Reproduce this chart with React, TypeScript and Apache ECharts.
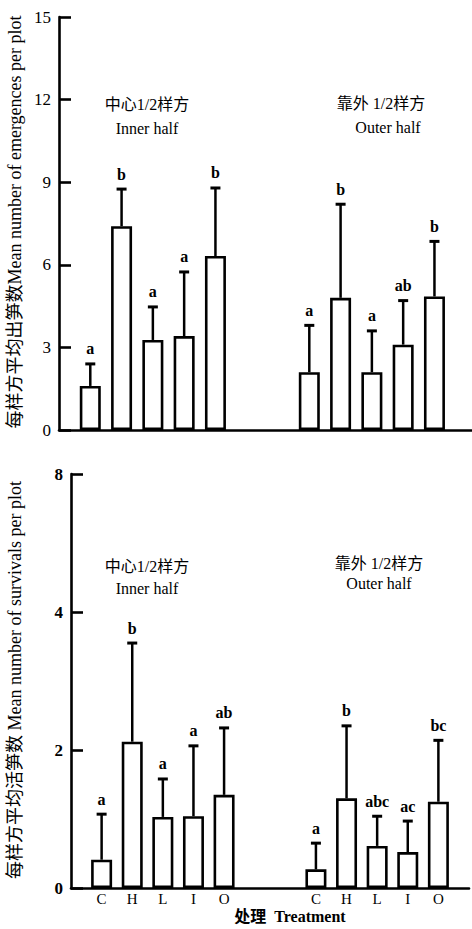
import React, { useEffect, useRef } from "react";
import * as echarts from "echarts";

// ---- data ----
const treatments = ["C", "H", "L", "I", "O"];
const innerPos = [1, 2, 3, 4, 5];
const outerPos = [8, 9, 10, 11, 12];

// Top panel: emergences per plot
const emergInnerMean = [1.6, 7.4, 3.27, 3.41, 6.32];
const emergInnerErr = [2.4, 8.75, 4.47, 5.74, 8.79];
const emergInnerLetters = ["a", "b", "a", "a", "b"];
const emergOuterMean = [2.1, 4.8, 2.1, 3.1, 4.85];
const emergOuterErr = [3.8, 8.2, 3.6, 4.7, 6.85];
const emergOuterLetters = ["a", "b", "a", "ab", "b"];

// Bottom panel: survivals per plot
const survInnerMean = [0.41, 2.12, 1.03, 1.04, 1.35];
const survInnerErr = [1.07, 3.55, 1.58, 2.06, 2.32];
const survInnerLetters = ["a", "b", "a", "a", "ab"];
const survOuterMean = [0.27, 1.3, 0.61, 0.52, 1.25];
const survOuterErr = [0.65, 2.35, 1.04, 0.97, 2.14];
const survOuterLetters = ["a", "b", "abc", "ac", "bc"];

const topTickLabels = ["0", "3", "6", "9", "12", "15"];
const bottomTickLabels = ["0", "2", "4", "8"];

const SERIF = '"Liberation Serif", "DejaVu Serif", "Noto Sans CJK SC", serif';
const MIXED = '"Liberation Serif", "Noto Sans CJK SC", serif';

function App() {
  const ref = useRef<HTMLDivElement>(null);

  useEffect(() => {
    if (!ref.current) return;
    const chart = echarts.init(ref.current, null, { renderer: "svg" });

    const allPos = [...innerPos, ...outerPos];

    const barSeries = (grid: number, vals: number[]) => ({
      type: "bar",
      xAxisIndex: grid,
      yAxisIndex: grid,
      barWidth: 21,
      data: allPos.map((p, i) => [p, vals[i]]),
      itemStyle: { color: "#fff", borderColor: "#000", borderWidth: 2.6 },
      z: 2,
    });

    const errSeries = (grid: number, vals: number[], errs: number[], letters: string[]) => ({
      type: "custom",
      xAxisIndex: grid,
      yAxisIndex: grid,
      z: 3,
      data: allPos.map((p, i) => [p, vals[i], errs[i]]),
      renderItem: (params: any, api: any) => {
        const x = api.value(0);
        const v = api.value(1);
        const e = api.value(2);
        const p0 = api.coord([x, v]);
        const p1 = api.coord([x, e]);
        const cap = 5;
        return {
          type: "group",
          children: [
            {
              type: "line",
              shape: { x1: p0[0], y1: p0[1], x2: p1[0], y2: p1[1] },
              style: { stroke: "#000", lineWidth: 2.5 },
            },
            {
              type: "line",
              shape: { x1: p1[0] - cap, y1: p1[1], x2: p1[0] + cap, y2: p1[1] },
              style: { stroke: "#000", lineWidth: 3 },
            },
            {
              type: "text",
              x: p1[0],
              y: p1[1] - 7,
              style: {
                text: letters[params.dataIndex],
                textAlign: "center",
                textVerticalAlign: "bottom",
                font: "bold 16px " + SERIF,
                fill: "#000",
              },
            },
          ],
        };
      },
    });

    const yAxisCommon = {
      type: "value",
      splitLine: { show: false },
      axisLine: { show: true, lineStyle: { color: "#000", width: 2.6 } },
      axisTick: { show: true, inside: true, length: 12, lineStyle: { color: "#000", width: 2.6 } },
      axisLabel: { color: "#000", fontSize: 17, fontFamily: SERIF, margin: 8 },
    };

    const posLabel = (v: number) => {
      const i = innerPos.indexOf(v);
      if (i >= 0) return treatments[i];
      const j = outerPos.indexOf(v);
      if (j >= 0) return treatments[j];
      return "";
    };

    const txt = (text: string, x: number, y: number, size = 16, weight = "normal") => ({
      type: "text",
      x,
      y,
      style: {
        text,
        textAlign: "center",
        textVerticalAlign: "middle",
        font: `${weight} ${size}px ${MIXED}`,
        fill: "#000",
      },
    });

    chart.setOption({
      animation: false,
      backgroundColor: "#fff",
      grid: [
        { left: 59, top: 17, width: 413, height: 413 },
        { left: 71, top: 474, width: 401, height: 414 },
      ],
      xAxis: [
        {
          type: "value",
          gridIndex: 0,
          min: 0,
          max: 13.2,
          splitLine: { show: false },
          axisLine: { show: true, lineStyle: { color: "#000", width: 2.6 } },
          axisTick: { show: false },
          axisLabel: { show: false },
        },
        {
          type: "value",
          gridIndex: 1,
          min: 0,
          max: 13,
          interval: 1,
          splitLine: { show: false },
          axisLine: { show: true, lineStyle: { color: "#000", width: 2.6 } },
          axisTick: { show: false },
          axisLabel: {
            show: true,
            color: "#000",
            fontSize: 15,
            fontFamily: SERIF,
            margin: 3,
            showMinLabel: true,
            showMaxLabel: true,
            formatter: (v: number) => posLabel(v),
          },
        },
      ],
      yAxis: [
        {
          ...yAxisCommon,
          gridIndex: 0,
          min: 0,
          max: 15,
          interval: 3,
          axisLabel: {
            ...yAxisCommon.axisLabel,
            formatter: (v: number) => topTickLabels[Math.round(v / 3)] ?? "",
          },
        },
        {
          ...yAxisCommon,
          gridIndex: 1,
          min: 0,
          max: 6,
          interval: 2,
          axisLabel: {
            ...yAxisCommon.axisLabel,
            fontWeight: "bold",
            formatter: (v: number) => bottomTickLabels[Math.round(v / 2)] ?? "",
          },
        },
      ],
      series: [
        barSeries(0, [...emergInnerMean, ...emergOuterMean]),
        errSeries(
          0,
          [...emergInnerMean, ...emergOuterMean],
          [...emergInnerErr, ...emergOuterErr],
          [...emergInnerLetters, ...emergOuterLetters]
        ),
        barSeries(1, [...survInnerMean, ...survOuterMean]),
        errSeries(
          1,
          [...survInnerMean, ...survOuterMean],
          [...survInnerErr, ...survOuterErr],
          [...survInnerLetters, ...survOuterLetters]
        ),
      ],
      graphic: [
        {
          type: "text",
          x: 15,
          y: 222,
          rotation: Math.PI / 2,
          style: {
            text: "每样方平均出笋数Mean number of emergences per plot",
            textAlign: "center",
            textVerticalAlign: "middle",
            font: `normal 18px ${MIXED}`,
            fill: "#000",
          },
        },
        {
          type: "text",
          x: 15,
          y: 680,
          rotation: Math.PI / 2,
          style: {
            text: "每样方平均活笋数 Mean number of survivals per plot",
            textAlign: "center",
            textVerticalAlign: "middle",
            font: `normal 18px ${MIXED}`,
            fill: "#000",
          },
        },
        txt("中心1/2样方", 147, 104, 16),
        txt("Inner half", 147, 128, 16),
        txt("靠外 1/2样方", 381, 103, 16),
        txt("Outer half", 388, 127, 16),
        txt("中心1/2样方", 147, 566, 16),
        txt("Inner half", 147, 588, 16),
        txt("靠外 1/2样方", 379, 563, 16),
        txt("Outer half", 379, 583, 16),
        txt("处理  Treatment", 290, 916, 16, "bold"),
      ],
    });

    return () => chart.dispose();
  }, []);

  return (
    <div
      ref={ref}
      style={{ position: "absolute", left: 0, top: 0, width: 472, height: 929, background: "#fff" }}
    />
  );
}

export default App;
